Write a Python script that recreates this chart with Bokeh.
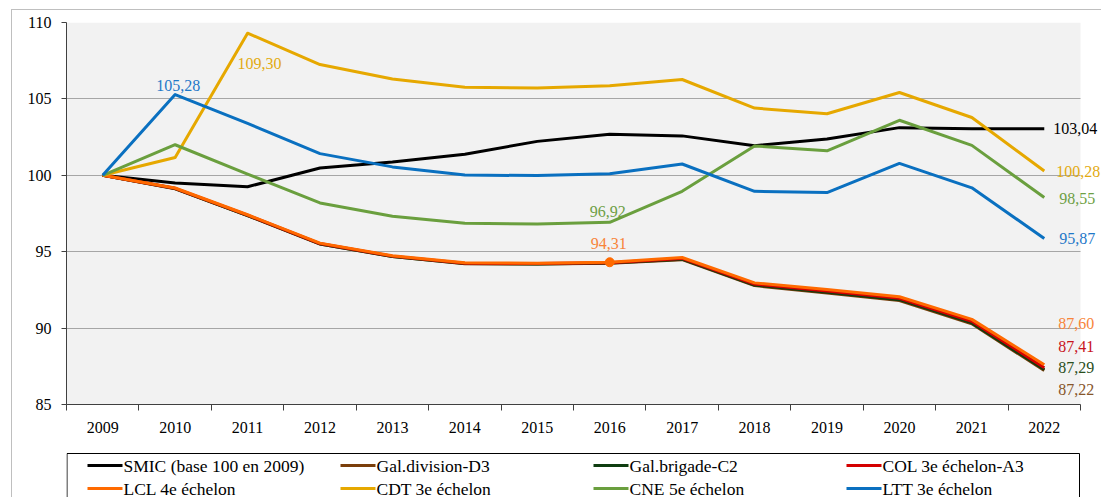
from bokeh.plotting import figure
from bokeh.models import Range1d, FixedTicker, ColumnDataSource, LabelSet
from bokeh.layouts import column
from bokeh.core.properties import value
from bokeh.embed import file_html
from bokeh.resources import INLINE

# ---------------- data ----------------
years = list(range(2009, 2023))
series_names = ["SMIC (base 100 en 2009)", "Gal.division-D3", "Gal.brigade-C2",
                "COL 3e échelon-A3", "LCL 4e échelon", "CDT 3e échelon",
                "CNE 5e échelon", "LTT 3e échelon"]
smic = [100.00, 99.50, 99.25, 100.48, 100.87, 101.38, 102.22, 102.68, 102.58,
        101.94, 102.37, 103.12, 103.05, 103.04]
gal_division = [100.00, 99.12, 97.36, 95.50, 94.68, 94.21, 94.19, 94.25, 94.48,
                92.78, 92.29, 91.80, 90.28, 87.22]
gal_brigade = [100.00, 99.13, 97.37, 95.51, 94.69, 94.22, 94.20, 94.26, 94.51,
               92.82, 92.34, 91.86, 90.34, 87.29]
col_a3 = [100.00, 99.15, 97.39, 95.53, 94.71, 94.24, 94.22, 94.28, 94.56,
          92.88, 92.42, 91.95, 90.45, 87.41]
lcl = [100.00, 99.17, 97.42, 95.56, 94.74, 94.27, 94.25, 94.31, 94.62,
       92.96, 92.52, 92.05, 90.57, 87.60]
cdt = [100.00, 101.17, 109.30, 107.25, 106.30, 105.76, 105.71, 105.86, 106.27,
       104.40, 104.03, 105.42, 103.78, 100.28]
cne = [100.00, 102.00, 100.08, 98.19, 97.32, 96.86, 96.82, 96.92, 98.95,
       101.92, 101.60, 103.60, 101.96, 98.55]
ltt = [100.00, 105.28, 103.40, 101.42, 100.55, 100.02, 99.98, 100.10, 100.74,
       98.95, 98.87, 100.78, 99.18, 95.87]
y_ticks = [85, 90, 95, 100, 105, 110]

series = [smic, gal_division, gal_brigade, col_a3, lcl, cdt, cne, ltt]

# ---------------- styles ----------------
line_colors = ["#000000", "#7a3e0a", "#0f3d10", "#d40000", "#ff6a00",
               "#e6a800", "#6a9f3e", "#0a70c0"]
label_colors = ["#000000", "#86562a", "#2a4f1c", "#c8141c", "#f8843a",
                "#e2aa10", "#6e9f45", "#1f78c8"]
FONT = "Liberation Serif"
X0, X1 = years[0] - 0.5, years[-1] + 0.5
PX_PER_YEAR = 1014 / (X1 - X0)
X_EXTRA = 21 / PX_PER_YEAR      # room right of the plot area for end labels

# labels: (series index, year index, dx, dy(down +), align)
label_specs = [
    (7, 1, 3, -9, "center"),
    (5, 2, 12, 30, "center"),
    (6, 7, -2, -11, "center"),
    (4, 7, -1, -19, "center"),
    (0, 13, 9, 0, "left"),
    (5, 13, 12, 0, "left"),
    (6, 13, 15, 1, "left"),
    (7, 13, 15, 0, "left"),
    (4, 13, 14, -41, "left"),
    (3, 13, 14, -21, "left"),
    (2, 13, 14, -2, "left"),
    (1, 13, 14, 19, "left"),
]

# outer frame of the original chart (1px grey lines), drawn as overlays
main_frame_css = """
:host::after {
  content: ""; position: absolute; left: 11px; top: 9px; right: 0; bottom: 0;
  border-left: 1px solid #bfbfbf; border-top: 1px solid #bfbfbf;
  pointer-events: none; z-index: 100;
}
"""
leg_frame_css = """
:host::after {
  content: ""; position: absolute; left: 11px; top: 0; bottom: 0; width: 0;
  border-left: 1px solid #bfbfbf;
  pointer-events: none; z-index: 100;
}
"""

# ---------------- main figure ----------------
p = figure(width=1101, height=447,
           x_range=Range1d(X0, X1 + X_EXTRA), y_range=Range1d(85, 110),
           output_backend="svg", toolbar_location=None,
           min_border_left=66, min_border_right=0,
           min_border_top=22, min_border_bottom=43,
           stylesheets=[main_frame_css])
p.background_fill_color = None
p.border_fill_color = "white"
p.outline_line_color = None
p.xgrid.grid_line_color = None
p.ygrid.grid_line_color = "#a6a6a6"
p.ygrid.grid_line_width = 1
p.ygrid.cross_bounds = (X0, X1)

# plot-area background
p.quad(left=[X0], right=[X1], bottom=[y_ticks[0]], top=[y_ticks[-1]],
       fill_color="#f2f2f2", line_color=None, level="image")

p.yaxis.ticker = FixedTicker(ticks=y_ticks)
p.yaxis.major_tick_out = 5
p.yaxis.major_tick_in = 0
p.yaxis.minor_tick_out = 0
p.yaxis.minor_tick_in = 0
p.yaxis.major_label_standoff = 10

p.xaxis.bounds = (X0, X1)
p.xaxis.ticker = FixedTicker(ticks=years,
                             minor_ticks=[y - 0.5 for y in years] + [X1])
p.xaxis.major_label_overrides = {y: str(y) for y in years}
p.xaxis.major_tick_out = 0
p.xaxis.major_tick_in = 0
p.xaxis.minor_tick_out = 6
p.xaxis.minor_tick_in = 0
p.xaxis.major_label_standoff = 11

for ax in (p.xaxis[0], p.yaxis[0]):
    ax.axis_line_color = "#404040"
    ax.major_tick_line_color = "#404040"
    ax.minor_tick_line_color = "#404040"
    ax.major_label_text_font = FONT
    ax.major_label_text_font_size = "16px"
    ax.major_label_text_color = "#000000"

for vals, c in zip(series, line_colors):
    p.line(years, vals, line_color=c, line_width=3, line_join="round")

# marker on LCL 2016
p.scatter([years[7]], [lcl[7]], size=9, color=line_colors[4])

lx, ly, lt, lc, ldx, ldy, lal = [], [], [], [], [], [], []
for si, yi, dx, dy, al in label_specs:
    v = series[si][yi]
    lx.append(years[yi])
    ly.append(v)
    lt.append(f"{v:.2f}".replace(".", ","))
    lc.append(label_colors[si])
    ldx.append(dx)
    ldy.append(-dy)
    lal.append(al)

for al in ("center", "left"):
    idx = [i for i, a in enumerate(lal) if a == al]
    src = ColumnDataSource(dict(x=[lx[i] for i in idx], y=[ly[i] for i in idx],
                                t=[lt[i] for i in idx], c=[lc[i] for i in idx],
                                dx=[ldx[i] for i in idx], dy=[ldy[i] for i in idx]))
    p.add_layout(LabelSet(x="x", y="y", text="t", source=src,
                          x_offset="dx", y_offset="dy",
                          text_color="c", text_font=value(FONT),
                          text_font_size="16px", text_align=al,
                          text_baseline="middle"))

# ---------------- legend figure (pixel coordinates) ----------------
leg = figure(width=1101, height=50, x_range=Range1d(66, 1101),
             y_range=Range1d(50, 0), output_backend="svg",
             toolbar_location=None, min_border_left=66, min_border_right=0,
             min_border_top=0, min_border_bottom=0,
             x_axis_location=None, y_axis_location=None,
             stylesheets=[leg_frame_css])
leg.grid.visible = False
leg.outline_line_color = None
leg.background_fill_color = "white"
leg.border_fill_color = "white"

leg.quad(left=[66.5], right=[1079], top=[6], bottom=[80], fill_color="white",
         line_color="#000000", line_width=1)

col_x0, col_step, sw_len = 87, 253, 35
row_y0, row_step = 18, 23
sx0, sx1, sy, tx, ty, tt = [], [], [], [], [], []
for i, name in enumerate(series_names):
    r, cc = divmod(i, 4)
    x0 = col_x0 + cc * col_step
    yy = row_y0 + r * row_step
    sx0.append(x0)
    sx1.append(x0 + sw_len)
    sy.append(yy)
    tx.append(x0 + sw_len + 1)
    ty.append(yy)
    tt.append(name)
leg.segment(x0=sx0, y0=sy, x1=sx1, y1=sy, line_color=line_colors, line_width=3)
leg.text(x=tx, y=ty, text=tt, text_font=value(FONT), text_font_size="17.5px",
         text_baseline="middle", text_align="left", text_color="#000000")

layout = column(p, leg, spacing=0)
open("out.html", "w").write(file_html(layout, INLINE))
